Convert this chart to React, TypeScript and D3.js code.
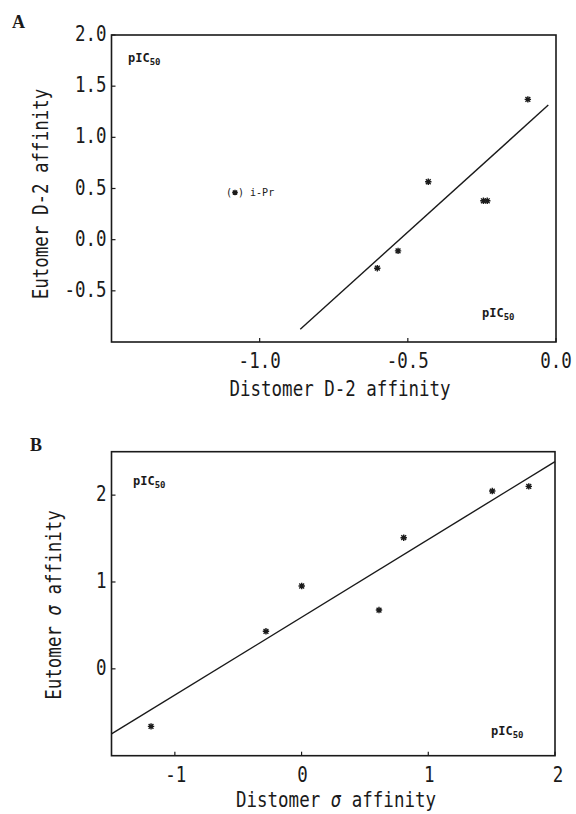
import React from "react";
import * as d3 from "d3";

// ---- Panel A data (D-2 affinity, pIC50) ----
const distomerD2 = [-0.095, -0.431, -0.245, -0.232, -0.533, -0.603];
const eutomerD2 = [1.371, 0.566, 0.38, 0.38, -0.11, -0.279];
const fitAX = [-0.863, -0.026];
const fitASlope = 2.617;
const fitAIntercept = 1.383;
const ticksAX = [-1.0, -0.5, 0.0];
const ticksAY = [-0.5, 0.0, 0.5, 1.0, 1.5, 2.0];

// ---- Panel B data (sigma affinity, pIC50) ----
const distomerSigma = [-1.188, -0.281, 0.001, 0.611, 0.806, 1.505, 1.793];
const eutomerSigma = [-0.662, 0.432, 0.954, 0.677, 1.51, 2.047, 2.101];
const fitBX = [-1.5, 2.0];
const fitBSlope = 0.8957;
const fitBIntercept = 0.594;
const ticksBX = [-1, 0, 1, 2];
const ticksBY = [0, 1, 2];

const MONO = "'DejaVu Sans Mono', monospace";
const INK = "#1a1a1a";

function PText({ x, y, children, anchor = "start", size = 17.5, rotate = 0 }: any) {
  return (
    <text
      transform={`translate(${x},${y}) rotate(${rotate}) scale(1,1.2)`}
      textAnchor={anchor}
      fontFamily={MONO}
      fontSize={size}
      fill={INK}
    >
      {children}
    </text>
  );
}

function Star({ x, y, r = 3.2 }: any) {
  const d = r * 0.75;
  const p = `M${x - r},${y}L${x + r},${y}M${x},${y - r}L${x},${y + r}M${x - d},${y - d}L${x + d},${y + d}M${x - d},${y + d}L${x + d},${y - d}`;
  return <path d={p} stroke={INK} strokeWidth={1.4} fill="none" />;
}

function PIC({ x, y }: any) {
  return (
    <text x={x} y={y} fontFamily={MONO} fontSize={12} fontWeight="bold" fill={INK}>
      pIC
      <tspan fontSize={9} dy={3}>50</tspan>
    </text>
  );
}

function Panel({ xs, ys, xd, yd, slope, intercept, fitX, ticksX, ticksY, fmt, x, y, children }: any) {
  const [x0, x1] = x.range();
  const [y0, y1] = y.range(); // y0 bottom, y1 top
  const line = d3
    .line<number>()
    .x((v) => x(v))
    .y((v) => y(slope * v + intercept));
  return (
    <g>
      <rect x={x0} y={y1} width={x1 - x0} height={y0 - y1} fill="none" stroke={INK} strokeWidth={1.6} />
      {ticksY.map((t: number) => (
        <g key={"y" + t}>
          <line x1={x0} x2={x0 + 4} y1={y(t)} y2={y(t)} stroke={INK} strokeWidth={1.2} />
          <PText x={x0 - 5} y={y(t) + 6} anchor="end">{fmt(t)}</PText>
        </g>
      ))}
      {ticksX.map((t: number) => (
        <g key={"x" + t}>
          <line x1={x(t)} x2={x(t)} y1={y0} y2={y0 - 4} stroke={INK} strokeWidth={1.2} />
        </g>
      ))}
      <path d={line(fitX) || ""} stroke={INK} strokeWidth={1.4} fill="none" />
      {xd.map((v: number, i: number) => (
        <Star key={i} x={x(v)} y={y(yd[i])} />
      ))}
      {children}
    </g>
  );
}

export default function App() {
  const xA = d3.scaleLinear().domain([-1.5, 0]).range([111.5, 556]);
  const yA = d3.scaleLinear().domain([-1, 2]).range([342, 35]);
  const xB = d3.scaleLinear().domain([-1.5, 2]).range([111.5, 555]);
  const yB = d3.scaleLinear().domain([-1, 2.5]).range([755.7, 451.7]);
  const fmtA = d3.format(".1f");
  const fmtB = d3.format("d");
  const fmtMinus = (f: any) => (v: number) => f(v).replace("−", "-");

  return (
    <svg
      width={576}
      height={814}
      style={{ position: "absolute", left: 0, top: 0, background: "#fff" }}
    >
      <rect width={576} height={814} fill="#fff" />
      {/* Panel A */}
      <text x={12} y={28} fontFamily="'Liberation Serif', serif" fontWeight="bold" fontSize={18} fill={INK}>A</text>
      <Panel
        x={xA}
        y={yA}
        xd={distomerD2}
        yd={eutomerD2}
        slope={fitASlope}
        intercept={fitAIntercept}
        fitX={fitAX}
        ticksX={ticksAX}
        ticksY={ticksAY}
        fmt={fmtMinus(fmtA)}
      >
        {ticksAX.map((t) => (
          <PText key={t} x={xA(t)} y={368} anchor="middle">{fmtMinus(fmtA)(t)}</PText>
        ))}
        <PIC x={128} y={62} />
        <PIC x={482} y={317} />
        <text x={226} y={196} fontFamily={MONO} fontSize={10} fill={INK}>( ) i-Pr</text>
        <Star x={235} y={192.5} r={2.8} />
        <PText x={340} y={396} anchor="middle">Distomer D-2 affinity</PText>
        <PText x={48} y={194} anchor="middle" rotate={-90}>Eutomer D-2 affinity</PText>
      </Panel>

      {/* Panel B */}
      <text x={30} y={451} fontFamily="'Liberation Serif', serif" fontWeight="bold" fontSize={18} fill={INK}>B</text>
      <Panel
        x={xB}
        y={yB}
        xd={distomerSigma}
        yd={eutomerSigma}
        slope={fitBSlope}
        intercept={fitBIntercept}
        fitX={fitBX}
        ticksX={ticksBX}
        ticksY={ticksBY}
        fmt={fmtMinus(fmtB)}
      >
        {ticksBX.map((t) => (
          <PText key={t} x={xB(t) + (t === 2 ? 3 : 1)} y={782} anchor="middle">{fmtMinus(fmtB)(t)}</PText>
        ))}
        <PIC x={133} y={485} />
        <PIC x={491} y={735} />
        <PText x={336} y={807} anchor="middle">
          Distomer <tspan fontStyle="italic">σ</tspan> affinity
        </PText>
        <PText x={61} y={605} anchor="middle" rotate={-90}>
          Eutomer <tspan fontStyle="italic">σ</tspan> affinity
        </PText>
      </Panel>
    </svg>
  );
}
